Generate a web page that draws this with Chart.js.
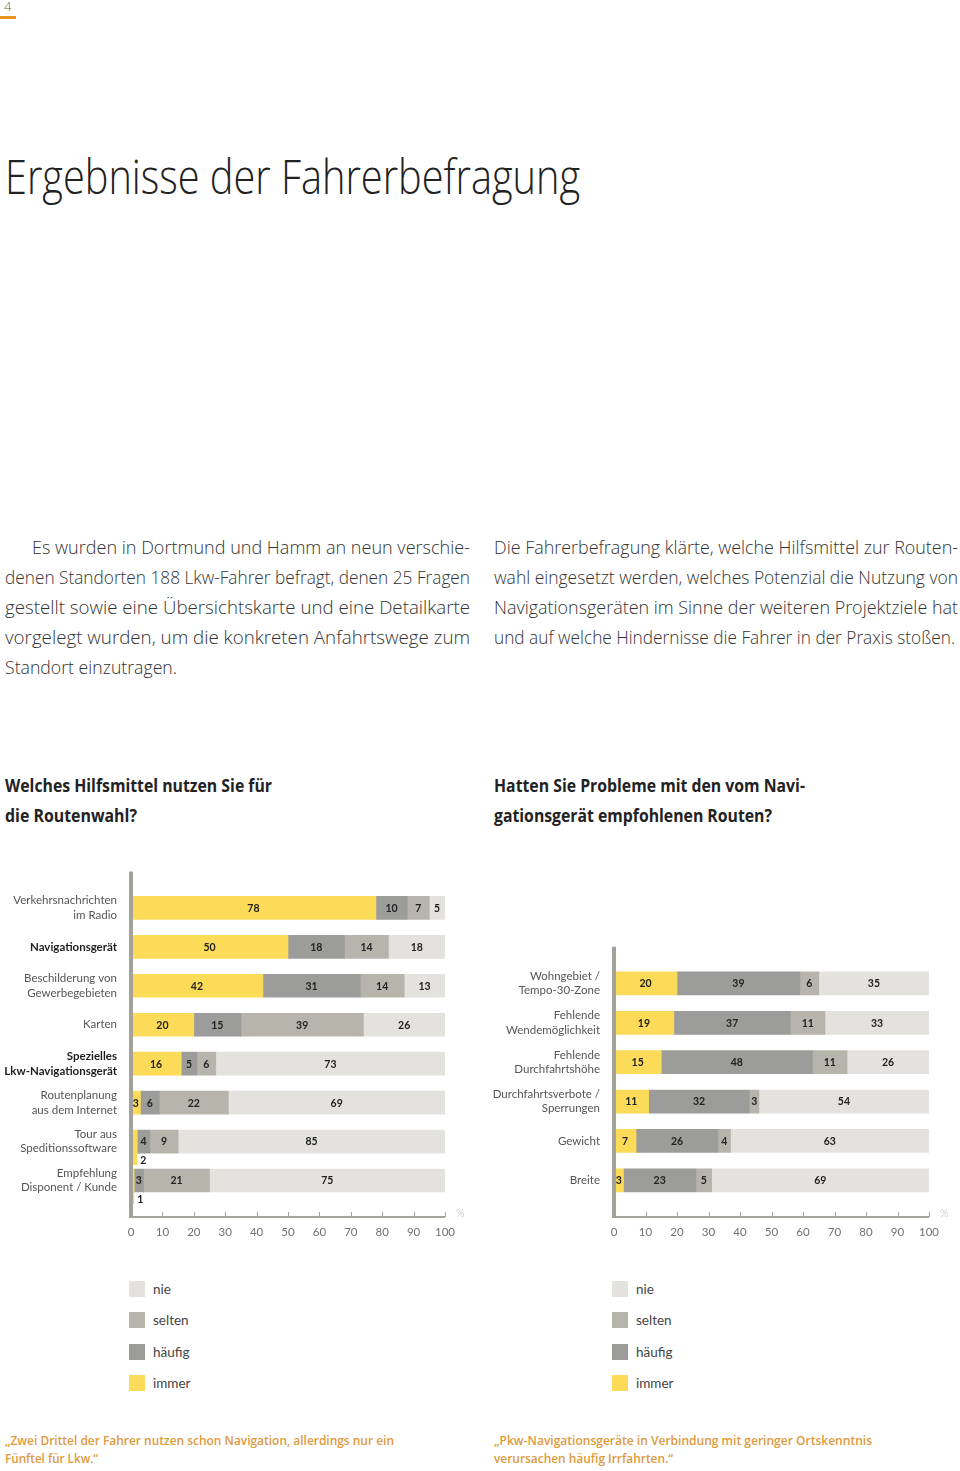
<!DOCTYPE html>
<html lang="de">
<head>
<meta charset="utf-8">
<title>Ergebnisse der Fahrerbefragung</title>
<script src="https://cdn.jsdelivr.net/npm/chart.js@4/dist/chart.umd.min.js"></script>
<style>
  html, body { margin: 0; padding: 0; background: #fff; }
  body { position: relative; width: 960px; height: 1471px; overflow: hidden; font-family: 'Open Sans', Lato, sans-serif; color: #333; }
  .abs { position: absolute; white-space: nowrap; transform-origin: 0 50%; }
  .pagenum { left: 4px; top: -3px; font-size: 13px; color: #666; font-weight: 300; }
  .pagebar { position: absolute; left: 0; top: 16px; width: 16px; height: 3px; background: #e8951f; }
  .title { font-size: 48px; font-weight: 300; color: #222; line-height: 60px; }
  .body { font-size: 18px; font-weight: 300; color: #333; line-height: 24px; }
  .head { font-size: 17px; font-weight: 700; color: #222; line-height: 24px; }
  .quote { font-size: 13px; font-weight: 600; color: #e0993c; line-height: 18px; }
  .chartbox { position: absolute; top: 860px; width: 480px; height: 390px; }
  .legend { position: absolute; top: 1277px; font-family: Lato, 'Open Sans', sans-serif; }
  .legend div { height: 31.3px; display: flex; align-items: flex-start; font-size: 13.5px; color: #444; }
  .legend span.sw { width: 16px; height: 16px; margin-right: 8px; margin-top: 4px; }
  .legend span.tx { line-height: 24px; }
</style>
</head>
<body>

<div class="abs pagenum">4</div>
<div class="pagebar"></div>

<div class="abs title fit" data-w="575" style="left:5px; top:146px;">Ergebnisse der Fahrerbefragung</div>

<div class="abs body fit" data-w="438" style="left:32px; top:535px;">Es wurden in Dortmund und Hamm an neun verschie-</div>
<div class="abs body fit" data-w="465" style="left:5px; top:565px;">denen Standorten 188 Lkw-Fahrer befragt, denen 25 Fragen</div>
<div class="abs body fit" data-w="465" style="left:5px; top:595px;">gestellt sowie eine Übersichtskarte und eine Detailkarte</div>
<div class="abs body fit" data-w="465" style="left:5px; top:625px;">vorgelegt wurden, um die konkreten Anfahrtswege zum</div>
<div class="abs body fit" data-w="172" style="left:5px; top:655px;">Standort einzutragen.</div>

<div class="abs body fit" data-w="464" style="left:494px; top:535px;">Die Fahrerbefragung klärte, welche Hilfsmittel zur Routen-</div>
<div class="abs body fit" data-w="464" style="left:494px; top:565px;">wahl eingesetzt werden, welches Potenzial die Nutzung von</div>
<div class="abs body fit" data-w="464" style="left:494px; top:595px;">Navigationsgeräten im Sinne der weiteren Projektziele hat</div>
<div class="abs body fit" data-w="461" style="left:494px; top:625px;">und auf welche Hindernisse die Fahrer in der Praxis stoßen.</div>

<div class="abs head fit" data-w="267" style="left:5px; top:774px;">Welches Hilfsmittel nutzen Sie für</div>
<div class="abs head fit" data-w="132" style="left:5px; top:804px;">die Routenwahl?</div>
<div class="abs head fit" data-w="311" style="left:494px; top:774px;">Hatten Sie Probleme mit den vom Navi-</div>
<div class="abs head fit" data-w="278" style="left:494px; top:804px;">gationsgerät empfohlenen Routen?</div>

<div class="chartbox" style="left:0;"><canvas id="chartLeft" width="480" height="390"></canvas></div>
<div class="chartbox" style="left:480px;"><canvas id="chartRight" width="480" height="390"></canvas></div>

<div class="legend" id="legendLeft" style="left:129px;"></div>
<div class="legend" id="legendRight" style="left:612px;"></div>

<div class="abs quote fit" data-w="389" style="left:5px; top:1431px;">„Zwei Drittel der Fahrer nutzen schon Navigation, allerdings nur ein</div>
<div class="abs quote fit" data-w="93" style="left:5px; top:1449px;">Fünftel für Lkw.“</div>
<div class="abs quote fit" data-w="378" style="left:494px; top:1431px;">„Pkw-Navigationsgeräte in Verbindung mit geringer Ortskenntnis</div>
<div class="abs quote fit" data-w="179" style="left:494px; top:1449px;">verursachen häufig Irrfahrten.“</div>

<script>
// ---- data ----
const seriesNames = ['immer', 'häufig', 'selten', 'nie'];
const seriesColors = ['#fcdb58', '#9c9c9b', '#b7b5ab', '#e3e2de'];

const leftCategories = [
  ['Verkehrsnachrichten', 'im Radio'],
  'Navigationsgerät',
  ['Beschilderung von', 'Gewerbegebieten'],
  'Karten',
  ['Spezielles', 'Lkw-Navigationsgerät'],
  ['Routenplanung', 'aus dem Internet'],
  ['Tour aus', 'Speditionssoftware'],
  ['Empfehlung', 'Disponent / Kunde']
];
const leftBold = [1, 4];
const leftImmer  = [78, 50, 42, 20, 16, 3, 2, 1];
const leftHaeufig = [10, 18, 31, 15, 5, 6, 4, 3];
const leftSelten = [7, 14, 14, 39, 6, 22, 9, 21];
const leftNie    = [5, 18, 13, 26, 73, 69, 85, 75];

const rightCategories = [
  ['Wohngebiet /', 'Tempo-30-Zone'],
  ['Fehlende', 'Wendemöglichkeit'],
  ['Fehlende', 'Durchfahrtshöhe'],
  ['Durchfahrtsverbote /', 'Sperrungen'],
  'Gewicht',
  'Breite'
];
const rightImmer  = [20, 19, 15, 11, 7, 3];
const rightHaeufig = [39, 37, 48, 32, 26, 23];
const rightSelten = [6, 11, 11, 3, 4, 5];
const rightNie    = [35, 33, 26, 54, 63, 69];

const xTicks = [0, 10, 20, 30, 40, 50, 60, 70, 80, 90, 100];

// ---- fit text lines to measured widths ----
document.querySelectorAll('.fit').forEach(el => {
  const w = el.getBoundingClientRect().width;
  el.style.transform = `scaleX(${el.dataset.w / w})`;
});

// ---- legends (reverse order, nie on top) ----
function buildLegend(id) {
  const box = document.getElementById(id);
  for (let i = seriesNames.length - 1; i >= 0; i--) {
    const row = document.createElement('div');
    row.innerHTML = `<span class="sw" style="background:${seriesColors[i]}"></span><span class="tx">${seriesNames[i]}</span>`;
    box.appendChild(row);
  }
}
buildLegend('legendLeft');
buildLegend('legendRight');

// ---- plugins ----
const axisFrame = {
  id: 'axisFrame',
  afterDatasetsDraw(chart) {
    const { ctx, chartArea: a, scales: { x } } = chart;
    const ext = 17;
    const x0 = x.getPixelForValue(0);
    const x1 = x.getPixelForValue(100);
    const yb = a.bottom + ext;
    ctx.save();
    ctx.strokeStyle = '#a4a29a';
    ctx.lineWidth = 4;
    ctx.beginPath();
    ctx.moveTo(x0, a.top - ext);
    ctx.lineTo(x0, yb + 1);
    ctx.stroke();
    ctx.lineWidth = 2;
    ctx.beginPath();
    ctx.moveTo(x0, yb);
    ctx.lineTo(x1, yb);
    ctx.stroke();
    ctx.lineWidth = 1;
    ctx.beginPath();
    xTicks.forEach(t => {
      const px = Math.round(x.getPixelForValue(t)) + 0.5;
      ctx.moveTo(px, yb);
      ctx.lineTo(px, yb - 5);
    });
    ctx.stroke();
    ctx.fillStyle = '#bbbbbb';
    ctx.font = '300 11px Lato, sans-serif';
    ctx.textAlign = 'left';
    ctx.textBaseline = 'middle';
    ctx.fillText('%', x1 + 11, yb - 4);
    ctx.restore();
  }
};

const barLabels = {
  id: 'barLabels',
  afterDatasetsDraw(chart) {
    const { ctx } = chart;
    ctx.save();
    ctx.font = 'bold 10.5px Lato, sans-serif';
    ctx.textBaseline = 'middle';
    chart.data.datasets.forEach((ds, i) => {
      chart.getDatasetMeta(i).data.forEach((bar, j) => {
        const v = ds.data[j];
        const p = bar.getProps(['x', 'y', 'base', 'height'], true);
        const left = Math.min(p.x, p.base), right = Math.max(p.x, p.base);
        if (v < 2.5) {
          ctx.fillStyle = ds.backgroundColor;
          ctx.fillRect(left, p.y + p.height / 2, right - left, 12);
          ctx.fillStyle = '#222';
          ctx.textAlign = 'left';
          ctx.fillText(String(v), right + 3, p.y + p.height / 2 + 8);
        } else {
          ctx.fillStyle = '#222';
          ctx.textAlign = 'center';
          ctx.fillText(String(v), (left + right) / 2, p.y + 0.5);
        }
      });
    });
    ctx.restore();
  }
};

// ---- chart builder ----
function makeChart(canvasId, labels, values, opts) {
  const datasets = values.map((arr, i) => ({
    label: seriesNames[i],
    data: arr,
    backgroundColor: seriesColors[i],
    borderWidth: 0,
    barThickness: 23
  }));
  return new Chart(document.getElementById(canvasId), {
    type: 'bar',
    data: { labels, datasets },
    options: {
      indexAxis: 'y',
      responsive: false,
      animation: false,
      events: [],
      layout: { padding: { top: opts.top, right: opts.right, left: 0, bottom: 0 } },
      plugins: { legend: { display: false }, tooltip: { enabled: false } },
      scales: {
        x: {
          stacked: true,
          min: 0,
          max: 100,
          // tick marks hidden; tickLength only pushes the labels below the drawn axis
          grid: { display: false, drawTicks: true, tickLength: 22 },
          border: { display: false },
          afterFit: s => { s.height = 50; },
          afterBuildTicks: s => { s.ticks = xTicks.map(v => ({ value: v })); },
          ticks: {
            padding: 3,
            color: '#707070',
            font: { family: 'Lato, sans-serif', size: 11.5 },
            maxRotation: 0
          }
        },
        y: {
          stacked: true,
          grid: { display: false, drawTicks: false },
          border: { display: false },
          afterFit: s => { s.width = opts.axisWidth; },
          ticks: {
            padding: 14,
            color: c => (opts.bold || []).includes(c.index) ? '#1e1e1e' : '#555555',
            font: c => ({
              family: 'Lato, sans-serif',
              size: 11.5,
              lineHeight: 1.25,
              weight: (opts.bold || []).includes(c.index) ? 'bold' : 'normal'
            })
          }
        }
      }
    },
    plugins: [barLabels, axisFrame]
  });
}

makeChart('chartLeft', leftCategories,
  [leftImmer, leftHaeufig, leftSelten, leftNie],
  { top: 25, right: 35, axisWidth: 131, bold: leftBold });

makeChart('chartRight', rightCategories,
  [rightImmer, rightHaeufig, rightSelten, rightNie],
  { top: 103.75, right: 31, axisWidth: 134 });
</script>
</body>
</html>
